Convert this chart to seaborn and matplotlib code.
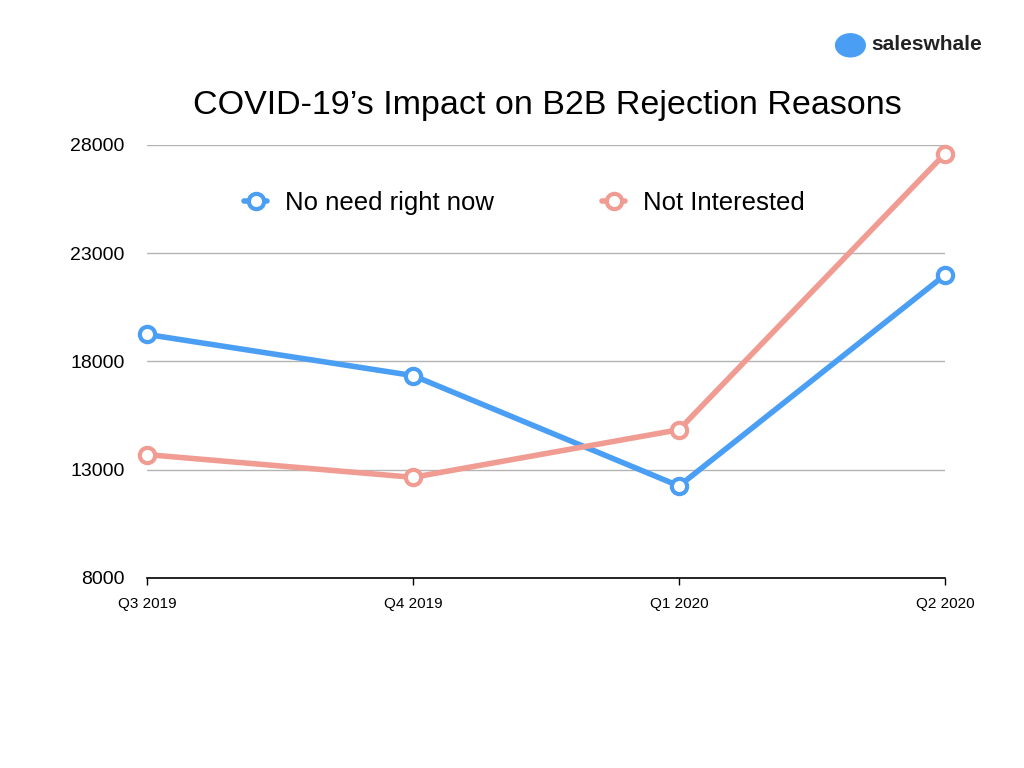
import pandas as pd
import seaborn as sns
import matplotlib.pyplot as plt
from matplotlib.patches import Ellipse

quarters = ["Q3 2019", "Q4 2019", "Q1 2020", "Q2 2020"]
no_need = [19250, 17350, 12250, 22000]
not_interested = [13700, 12650, 14850, 27600]
series_names = ["No need right now", "Not Interested"]
palette = {"No need right now": "#4A9FF5", "Not Interested": "#F09C92"}
y_ticks = [8000, 13000, 18000, 23000, 28000]

df = pd.DataFrame({
    "quarter": quarters * 2,
    "pos": list(range(len(quarters))) * 2,
    "value": no_need + not_interested,
    "series": [series_names[0]] * len(quarters) + [series_names[1]] * len(quarters),
})

sns.set_style("white")
plt.rcParams["font.family"] = ["Liberation Sans", "DejaVu Sans"]
plt.rcParams["text.color"] = "black"
plt.rcParams["xtick.color"] = "black"
plt.rcParams["ytick.color"] = "black"

fig = plt.figure(figsize=(10.24, 7.68), dpi=100)
ax = fig.add_axes([0.1436, 0.2474, 0.7793, 0.5638])

sns.lineplot(
    data=df, x="pos", y="value", hue="series", palette=palette,
    hue_order=series_names, linewidth=4, marker="o", markersize=11,
    markerfacecolor="white", markeredgewidth=3, ax=ax, clip_on=False,
)
for line in ax.lines:
    line.set_markeredgecolor(line.get_color())
    line.set_zorder(5)

ax.set_xlim(0, 3)
ax.set_ylim(8000, 28000)
ax.set_yticks(y_ticks)
ax.set_yticklabels([str(t) for t in y_ticks], fontsize=14)
ax.set_xticks(range(len(quarters)))
ax.set_xticklabels(quarters, fontsize=11)
ax.set_xlabel("")
ax.set_ylabel("")
ax.yaxis.grid(True, color="#b3b3b3", linewidth=1)
ax.set_axisbelow(True)
for side in ["top", "right", "left"]:
    ax.spines[side].set_visible(False)
ax.spines["bottom"].set_color("black")
ax.spines["bottom"].set_linewidth(1.2)
ax.tick_params(axis="x", bottom=True, direction="out", length=5, width=1,
               color="black", pad=9)
ax.tick_params(axis="y", length=0, pad=16)

handles, labels = ax.get_legend_handles_labels()
ax.legend(handles, labels, loc="center", bbox_to_anchor=(0.473, 0.866),
          ncol=2, frameon=False, fontsize=18.5, columnspacing=4.2,
          handlelength=0.9, handletextpad=0.7)

fig.text(0.535, 0.863, "COVID-19\u2019s Impact on B2B Rejection Reasons",
         ha="center", va="center", fontsize=24.5)

fig.patches.append(Ellipse((0.8305, 0.941), 0.029, 0.03, transform=fig.transFigure,
                           color="#4A9FF5", figure=fig))
fig.text(0.851, 0.942, "saleswhale", ha="left", va="center", fontsize=15,
         fontweight="bold", color="#222222")

fig.savefig("out.png", dpi=100)
